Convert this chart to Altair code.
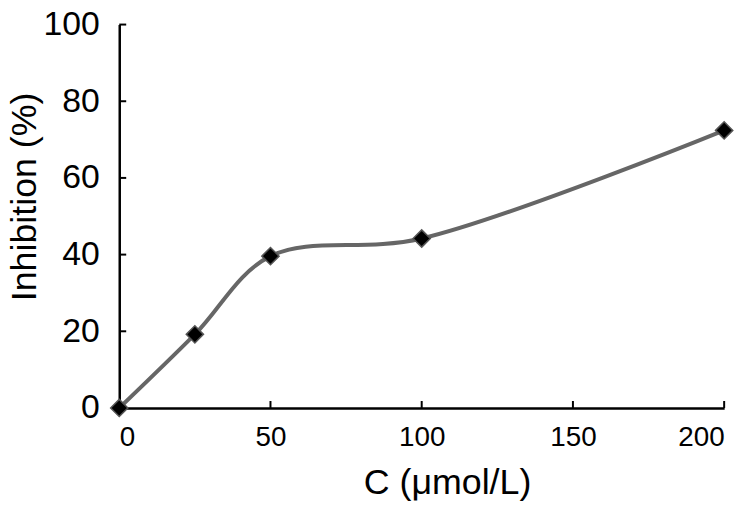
import altair as alt
import pandas as pd

conc = [0, 25, 50, 100, 200]
inhibition = [0, 19.2, 39.6, 44.2, 72.4]
x_ticks = [0, 50, 100, 150, 200]
y_ticks = [0, 20, 40, 60, 80, 100]

df = pd.DataFrame({"C": conc, "I": inhibition})
xt = pd.DataFrame({"t": x_ticks})
yt = pd.DataFrame({"t": y_ticks})

FONT = "Liberation Sans"
W, H = 609, 386

xscale = alt.Scale(domain=[0, 200], nice=False, zero=False)
yscale = alt.Scale(domain=[0, 100], nice=False, zero=False)

xaxis = alt.Axis(
    values=x_ticks, title="C (μmol/L)", grid=False, ticks=False, tickSize=0,
    domainColor="black", domainWidth=2.5, labelFont=FONT, labelFontSize=28,
    labelColor="black", labelPadding=16, titleFont=FONT, titleFontSize=36,
    titleFontWeight="normal", titleColor="black", titleX=330, titleY=86,
    titleBaseline="alphabetic", titleAlign="center",
)
yaxis = alt.Axis(
    values=y_ticks, title="Inhibition (%)", grid=False, ticks=False, tickSize=0,
    domainColor="black", domainWidth=2.5, labelFont=FONT, labelFontSize=34,
    labelColor="black", labelPadding=20, titleFont=FONT, titleFontSize=36,
    titleFontWeight="normal", titleColor="black", titleAngle=270, titleX=-84,
    titleY=173, titleBaseline="alphabetic", titleAlign="center",
)

base = alt.Chart(df)

line = base.mark_line(
    interpolate="catmull-rom", color="#666666", strokeWidth=4, clip=False
).encode(
    x=alt.X("C:Q", scale=xscale, axis=xaxis),
    y=alt.Y("I:Q", scale=yscale, axis=yaxis),
)

pts = base.mark_point(
    shape="diamond", size=300, filled=True, fill="black", stroke="#555555",
    strokeWidth=1.5, opacity=1, clip=False
).encode(x=alt.X("C:Q", scale=xscale), y=alt.Y("I:Q", scale=yscale))

yticks = alt.Chart(yt).mark_rule(color="black", strokeWidth=2).encode(
    y=alt.Y("t:Q", scale=yscale), x=alt.value(0), x2=alt.value(7)
)
xticks = alt.Chart(xt).mark_rule(color="black", strokeWidth=2).encode(
    x=alt.X("t:Q", scale=xscale), y=alt.value(H), y2=alt.value(H - 7)
)

chart = (
    alt.layer(line, yticks, xticks, pts)
    .properties(
        width=W, height=H,
        autosize=alt.AutoSizeParams(type="none"),
        padding={"left": 112, "top": 15, "right": 23, "bottom": 93},
        background="white",
    )
    .configure_view(stroke=None)
)

chart.save("out.html", embed_options={"renderer": "svg", "actions": False})
